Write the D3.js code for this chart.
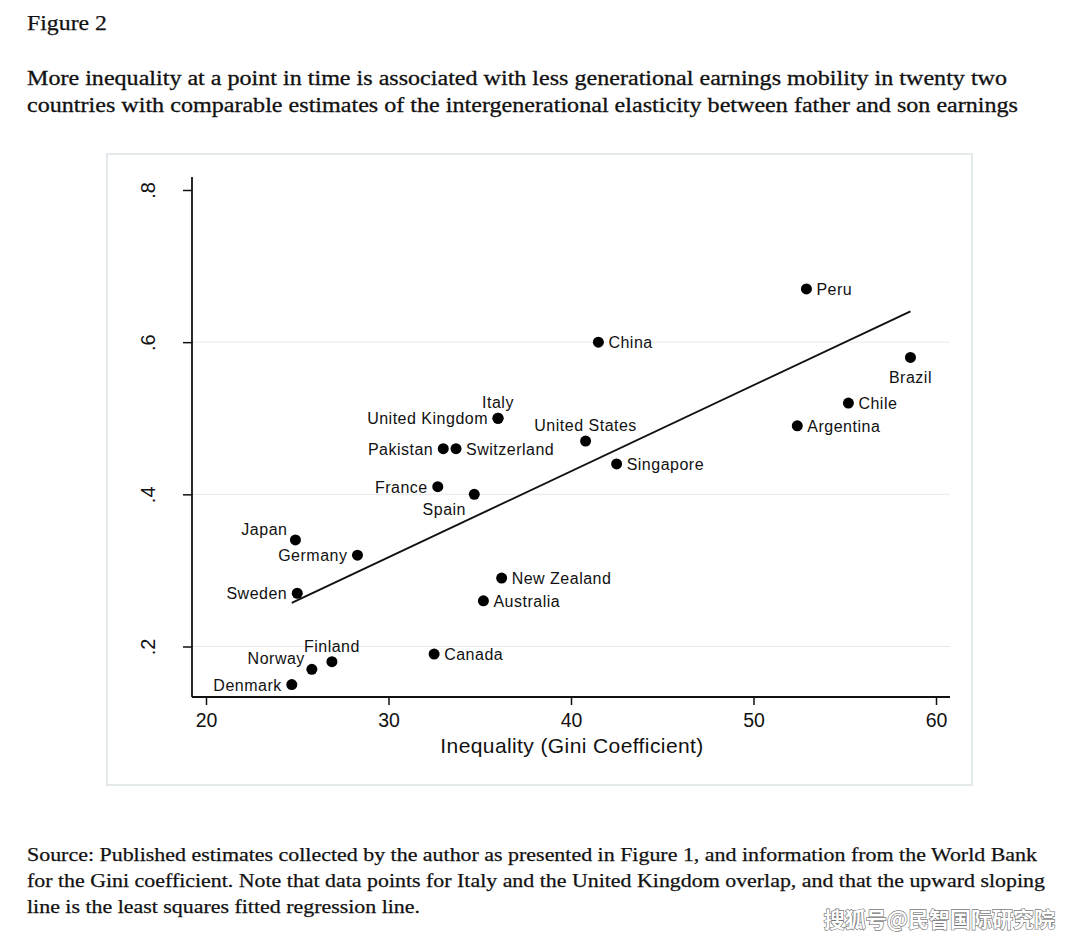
<!DOCTYPE html>
<html>
<head>
<meta charset="utf-8">
<script src="https://cdn.jsdelivr.net/npm/d3@7/dist/d3.min.js"></script>
<style>
  html, body { margin: 0; padding: 0; background: #ffffff; }
  svg { display: block; }
</style>
</head>
<body>
<svg id="chart" width="1080" height="943"></svg>
<script>
// ---- data ----
const countries = ["Peru","China","Brazil","Chile","Argentina","United States","Singapore",
  "Italy","United Kingdom","Pakistan","Switzerland","France","Spain","Japan","Germany",
  "Sweden","New Zealand","Australia","Canada","Finland","Norway","Denmark"];
const gini = [52.9,41.5,58.6,55.2,52.4,40.8,42.5,36.0,36.0,33.0,33.7,32.7,34.7,24.9,28.3,
  25.0,36.2,35.2,32.5,26.9,25.8,24.7];
const elasticity = [0.67,0.60,0.58,0.52,0.49,0.47,0.44,0.50,0.50,0.46,0.46,0.41,0.40,0.34,0.32,
  0.27,0.29,0.26,0.19,0.18,0.17,0.15];
// label placement (clock position) for each country
const labelClock = [3,3,6,3,3,12,3,12,9,9,3,9,7,11,9,9,3,3,3,12,10,9];
const xTicks = [20,30,40,50,60];
const yTicks = [0.2,0.4,0.6,0.8];
const yTickLabels = [".2",".4",".6",".8"];
const figureTitle = "Figure 2";
const subtitleLines = [
  "More inequality at a point in time is associated with less generational earnings mobility in twenty two",
  "countries with comparable estimates of the intergenerational elasticity between father and son earnings"
];
const xTitle = "Inequality (Gini Coefficient)";
const sourceLines = [
  "Source: Published estimates collected by the author as presented in Figure 1, and information from the World Bank",
  "for the Gini coefficient. Note that data points for Italy and the United Kingdom overlap, and that the upward sloping",
  "line is the least squares fitted regression line."
];
const watermark = "搜狐号@民智国际研究院";

const data = countries.map((c,i)=>({name:c, x:gini[i], y:elasticity[i], clock:labelClock[i]}));

// ---- layout ----
const svg = d3.select("#chart");
const serif = "'Liberation Serif','Times New Roman',serif";
const sans = "'Liberation Sans',Arial,Helvetica,sans-serif";

const x = d3.scaleLinear().domain([20,60]).range([206,936]);
const y = d3.scaleLinear().domain([0.2,0.8]).range([646.5,190]);
const axisX = 192, axisY = 697, plotRight = 950, plotTop = 177;

// texts
svg.append("text").attr("x",27).attr("y",30).attr("font-family",serif).attr("font-size",22)
  .attr("fill","#111").attr("stroke","#111").attr("stroke-width",0.25)
  .attr("textLength",80).attr("lengthAdjust","spacingAndGlyphs").text(figureTitle);
const subW = [980, 991];
subtitleLines.forEach((t,i)=>{
  svg.append("text").attr("x",27).attr("y",85+i*27).attr("font-family",serif).attr("font-size",20.5)
    .attr("fill","#111").attr("stroke","#111").attr("stroke-width",0.3)
    .attr("textLength",subW[i]).attr("lengthAdjust","spacingAndGlyphs").text(t);
});

// panel
svg.append("rect").attr("x",107).attr("y",154).attr("width",865).attr("height",631)
  .attr("fill","#ffffff").attr("stroke","#e4eaec").attr("stroke-width",2);

// gridlines
svg.append("g").selectAll("line").data(yTicks.filter(v=>v<0.8)).join("line")
  .attr("x1",axisX).attr("x2",plotRight)
  .attr("y1",d=>y(d)).attr("y2",d=>y(d))
  .attr("stroke","#e8e8e8").attr("stroke-width",1);

// axes
const gx = svg.append("g").attr("transform",`translate(0,${axisY})`)
  .call(d3.axisBottom(x).tickValues(xTicks).tickSize(8).tickPadding(8).tickFormat(d3.format("d")));
gx.select(".domain").attr("d",`M${axisX},0H${plotRight}`).attr("stroke","#111").attr("stroke-width",1.8);
gx.selectAll(".tick line").attr("stroke","#111").attr("stroke-width",1.5);
gx.selectAll(".tick text").attr("font-family",sans).attr("font-size",19.5).attr("fill","#111");

const gy = svg.append("g").attr("transform",`translate(${axisX},0)`)
  .call(d3.axisLeft(y).tickValues(yTicks).tickSize(9).tickFormat((d,i)=>yTickLabels[i]));
gy.select(".domain").attr("d",`M0,${plotTop}V${axisY}`).attr("stroke","#111").attr("stroke-width",1.8);
gy.selectAll(".tick line").attr("stroke","#111").attr("stroke-width",1.5);
gy.selectAll(".tick text").attr("font-family",sans).attr("font-size",20).attr("fill","#111")
  .attr("x",null).attr("dy",null).attr("text-anchor","middle")
  .attr("transform",`translate(-44,0) rotate(-90)`).attr("dominant-baseline","central");

svg.append("text").attr("x",572).attr("y",753).attr("text-anchor","middle")
  .attr("font-family",sans).attr("font-size",21).attr("letter-spacing",0.4).attr("fill","#111").text(xTitle);

// regression line (least squares from data)
const mx = d3.mean(gini), my = d3.mean(elasticity);
const sxy = d3.sum(gini.map((g,i)=>(g-mx)*(elasticity[i]-my)));
const sxx = d3.sum(gini.map(g=>(g-mx)*(g-mx)));
const slope = sxy/sxx, intercept = my - slope*mx;
const [x0,x1] = d3.extent(gini);
svg.append("line")
  .attr("x1",x(x0)).attr("y1",y(intercept+slope*x0))
  .attr("x2",x(x1)).attr("y2",y(intercept+slope*x1))
  .attr("stroke","#111").attr("stroke-width",1.9);

// points
svg.append("g").selectAll("circle").data(data).join("circle")
  .attr("cx",d=>x(d.x)).attr("cy",d=>y(d.y)).attr("r",5.5).attr("fill","#000");

// labels
const off = {
  3:  {dx:10, dy:6, anchor:"start"},
  9:  {dx:-10, dy:6, anchor:"end"},
  12: {dx:0, dy:-10, anchor:"middle"},
  6:  {dx:0, dy:26, anchor:"middle"},
  7:  {dx:-30, dy:21, anchor:"middle"},
  11: {dx:-8, dy:-5, anchor:"end"},
  10: {dx:-7, dy:-5, anchor:"end"}
};
svg.append("g").selectAll("text").data(data).join("text")
  .attr("x",d=>x(d.x)+off[d.clock].dx).attr("y",d=>y(d.y)+off[d.clock].dy)
  .attr("text-anchor",d=>off[d.clock].anchor)
  .attr("font-family",sans).attr("font-size",16).attr("letter-spacing",0.5).attr("fill","#111")
  .text(d=>d.name);

// source
const srcW = [1010, 1018, 393];
sourceLines.forEach((t,i)=>{
  svg.append("text").attr("x",27).attr("y",861+i*26).attr("font-family",serif).attr("font-size",19.5)
    .attr("fill","#111").attr("stroke","#111").attr("stroke-width",0.25)
    .attr("textLength",srcW[i]).attr("lengthAdjust","spacingAndGlyphs").text(t);
});

// watermark
svg.append("text").attr("x",1055).attr("y",927).attr("text-anchor","end")
  .attr("font-family","'Noto Sans CJK SC',sans-serif").attr("font-size",21).attr("font-weight",700)
  .attr("fill","#ffffff").attr("stroke","#777").attr("stroke-width",1.3).attr("paint-order","stroke")
  .text(watermark);
</script>
</body>
</html>
